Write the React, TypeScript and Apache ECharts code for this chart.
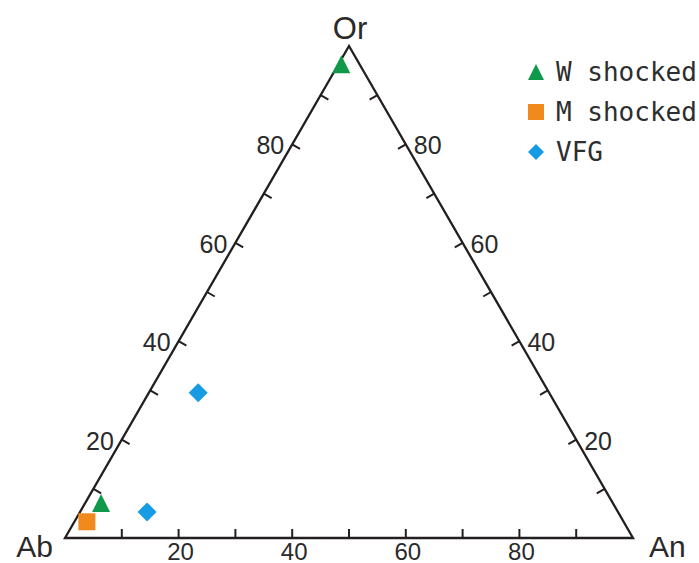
import React, { useEffect, useRef } from "react";
import * as echarts from "echarts";

// Ternary data: Ab, An, Or (%)
const seriesNames = ["W shocked", "M shocked", "VFG"];
const wAb = [3.2, 90.1];
const wAn = [0.5, 2.8];
const wOr = [96.3, 7.1];
const mAb = [94.5];
const mAn = [2.2];
const mOr = [3.3];
const vAb = [82.9, 61.8];
const vAn = [11.8, 8.7];
const vOr = [5.3, 29.5];

const tickValues = [10, 20, 30, 40, 50, 60, 70, 80, 90];
const labelValues = [20, 40, 60, 80];
const vertexLabels = ["Ab", "An", "Or"];

const SQ3 = Math.sqrt(3) / 2;

function toXY(ab: number[], an: number[], or: number[]) {
  return ab.map((a, i) => {
    const s = a + an[i] + or[i];
    const n = an[i] / s;
    const o = or[i] / s;
    return [n + o / 2, o * SQ3];
  });
}

export default function App() {
  const ref = useRef<HTMLDivElement>(null);
  useEffect(() => {
    if (!ref.current) return;
    const chart = echarts.init(ref.current, null, { renderer: "svg" });
    const lineColor = "#231f20";
    const textColor = "#2a2a2a";
    const font = "Liberation Sans, Arial, sans-serif";
    const TL = 9;

    const renderFrame = (params: any, api: any) => {
      const A = api.coord([0, 0]);
      const B = api.coord([1, 0]);
      const C = api.coord([0.5, SQ3]);
      const children: any[] = [];
      children.push({
        type: "polygon",
        shape: { points: [A, B, C] },
        style: { fill: "none", stroke: lineColor, lineWidth: 2.3, lineJoin: "miter" },
      });
      tickValues.forEach((t) => {
        const f = t / 100;
        const pb = api.coord([f, 0]);
        children.push({
          type: "line",
          shape: { x1: pb[0], y1: pb[1], x2: pb[0], y2: pb[1] - TL },
          style: { stroke: lineColor, lineWidth: 2 },
        });
        const pl = api.coord([f / 2, f * SQ3]);
        children.push({
          type: "line",
          shape: { x1: pl[0], y1: pl[1], x2: pl[0] + 0.866 * TL, y2: pl[1] + 0.5 * TL },
          style: { stroke: lineColor, lineWidth: 2 },
        });
        const pr = api.coord([1 - f / 2, f * SQ3]);
        children.push({
          type: "line",
          shape: { x1: pr[0], y1: pr[1], x2: pr[0] - 0.866 * TL, y2: pr[1] + 0.5 * TL },
          style: { stroke: lineColor, lineWidth: 2 },
        });
      });
      labelValues.forEach((t) => {
        const f = t / 100;
        const pb = api.coord([f, 0]);
        children.push({
          type: "text",
          style: {
            text: String(t), x: pb[0] + 2, y: pb[1] + 13, fill: textColor,
            font: `24px ${font}`, align: "center", verticalAlign: "middle",
          },
        });
        const pl = api.coord([f / 2, f * SQ3]);
        children.push({
          type: "text",
          style: {
            text: String(t), x: pl[0] - 8, y: pl[1] + 1, fill: textColor,
            font: `25px ${font}`, align: "right", verticalAlign: "middle",
          },
        });
        const pr = api.coord([1 - f / 2, f * SQ3]);
        children.push({
          type: "text",
          style: {
            text: String(t), x: pr[0] + 8, y: pr[1] + 1, fill: textColor,
            font: `25px ${font}`, align: "left", verticalAlign: "middle",
          },
        });
      });
      children.push({
        type: "text",
        style: { text: vertexLabels[0], x: A[0] - 12, y: A[1] + 8, fill: textColor, font: `30px ${font}`, align: "right", verticalAlign: "middle" },
      });
      children.push({
        type: "text",
        style: { text: vertexLabels[1], x: B[0] + 16, y: B[1] + 8, fill: textColor, font: `30px ${font}`, align: "left", verticalAlign: "middle" },
      });
      children.push({
        type: "text",
        style: { text: vertexLabels[2], x: C[0] + 1, y: C[1] - 18, fill: textColor, font: `31px ${font}`, align: "center", verticalAlign: "middle" },
      });
      return { type: "group", children };
    };

    const option: any = {
      animation: false,
      backgroundColor: "#ffffff",
      grid: { left: 65, right: 66, top: 46, bottom: 25 },
      xAxis: { type: "value", min: 0, max: 1, show: false },
      yAxis: { type: "value", min: 0, max: SQ3, show: false },
      legend: {
        orient: "vertical",
        left: 523,
        top: 54,
        itemWidth: 16,
        itemHeight: 16,
        itemGap: 14,
        data: seriesNames,
        textStyle: {
          fontFamily: "DejaVu Sans Mono, monospace",
          fontSize: 26,
          color: "#2e2e2e",
          padding: [0, 0, 0, 7],
        },
      },
      series: [
        {
          type: "custom",
          name: "frame",
          silent: true,
          clip: false,
          renderItem: renderFrame,
          data: [[0, 0]],
          z: 1,
        },
        {
          type: "scatter",
          name: seriesNames[0],
          symbol: "triangle",
          symbolSize: 18,
          itemStyle: { color: "#10994a", opacity: 1 },
          data: toXY(wAb, wAn, wOr),
          z: 3,
        },
        {
          type: "scatter",
          name: seriesNames[1],
          symbol: "rect",
          symbolSize: 17,
          itemStyle: { color: "#f08a1d", opacity: 1 },
          data: toXY(mAb, mAn, mOr),
          z: 3,
        },
        {
          type: "scatter",
          name: seriesNames[2],
          symbol: "diamond",
          symbolSize: 19,
          itemStyle: { color: "#169ce3", opacity: 1 },
          data: toXY(vAb, vAn, vOr),
          z: 3,
        },
      ],
    };
    chart.setOption(option);
    return () => chart.dispose();
  }, []);
  return (
    <div
      ref={ref}
      style={{ position: "fixed", left: 0, top: 0, width: 699, height: 563, background: "#fff" }}
    />
  );
}
